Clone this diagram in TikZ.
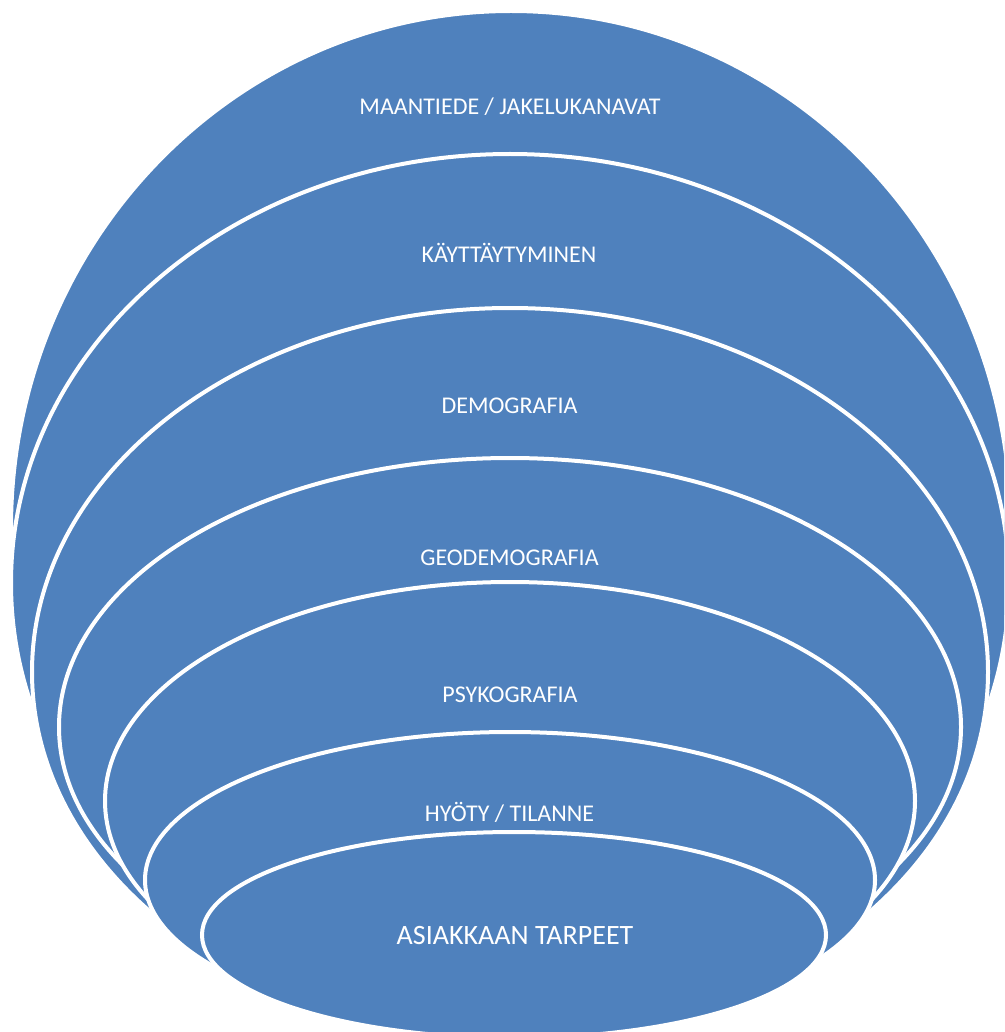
\documentclass[tikz,border=0pt]{standalone}
\usepackage{fontspec}
\setmainfont{Carlito}
\definecolor{ringblue}{HTML}{4F81BD}
\begin{document}
\begin{tikzpicture}[x=1pt,y=-1pt,
  ring/.style={fill=ringblue,draw=white,line width=4pt},
  lbl/.style={text=white,anchor=base,inner sep=0pt,font=\fontsize{24}{28}\selectfont},
  biglbl/.style={lbl,font=\fontsize{28}{32}\selectfont}]
\useasboundingbox (0,0) rectangle (1004,1032);
\clip (0,0) rectangle (1004,1032);
\path[ring] (511,528) ellipse [x radius=500pt, y radius=517pt];
\path[ring] (510,583) ellipse [x radius=499pt, y radius=429pt];
\path[ring] (510,672) ellipse [x radius=478pt, y radius=364pt];
\path[ring] (510,727) ellipse [x radius=451pt, y radius=269pt];
\path[ring] (510,801) ellipse [x radius=405pt, y radius=219pt];
\path[ring] (510,880) ellipse [x radius=365pt, y radius=148pt];
\path[ring] (514,935) ellipse [x radius=312pt, y radius=103pt];
\node[lbl] (t1) at (510,115) {MAANTIEDE / JAKELUKANAVAT};
\node[lbl] (t2) at (509,262) {KÄYTTÄYTYMINEN};
\node[lbl] (t3) at (509.5,413) {DEMOGRAFIA};
\node[lbl] (t4) at (509.5,565) {GEODEMOGRAFIA};
\node[lbl] (t5) at (510,702) {PSYKOGRAFIA};
\node[lbl] (t6) at (509.5,821) {HYÖTY / TILANNE};
\node[biglbl] (t7) at (515,944) {ASIAKKAAN TARPEET};
\end{tikzpicture}
\end{document}
